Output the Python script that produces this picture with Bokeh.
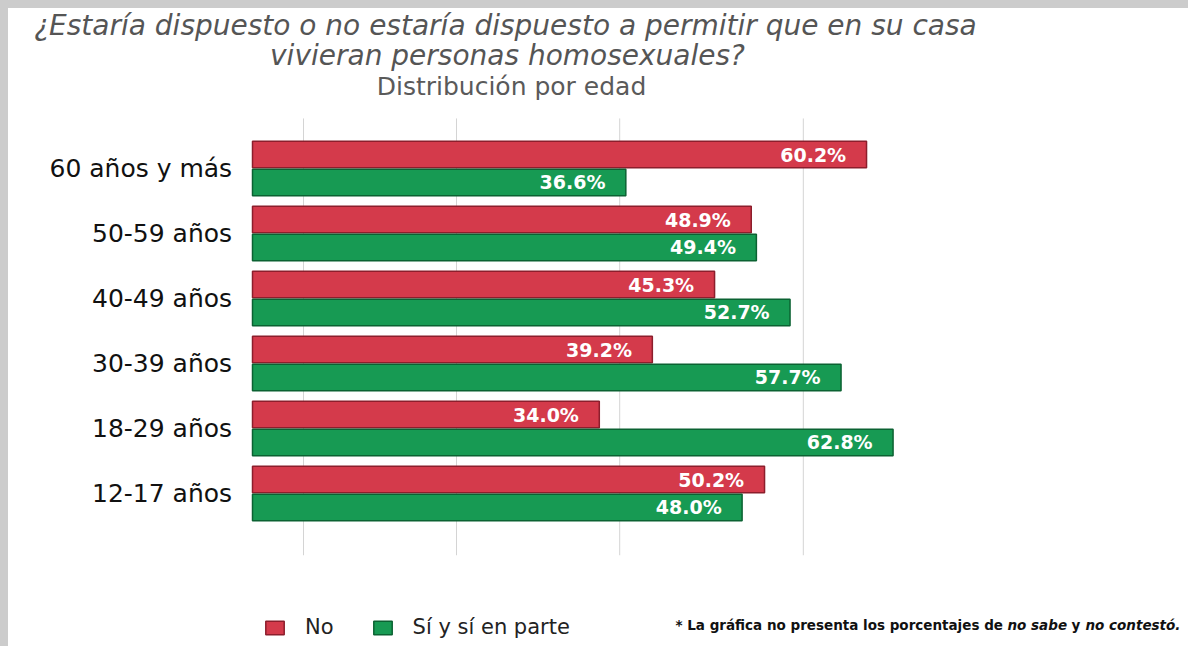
from bokeh.plotting import figure
from bokeh.models import ColumnDataSource, Label, Range1d, Legend, LegendItem
from bokeh.layouts import column
from bokeh.embed import file_html
from bokeh.resources import INLINE
from bokeh.core.properties import value

categories = ["12-17 años", "18-29 años", "30-39 años", "40-49 años", "50-59 años", "60 años y más"]
no_vals = [50.2, 34.0, 39.2, 45.3, 48.9, 60.2]
si_vals = [48.0, 62.8, 57.7, 52.7, 49.4, 36.6]
series_names = ["No", "Sí y sí en parte"]
grid_ticks = [5, 20, 36, 54]

RED = "#d43a4b"
RED_DARK = "#8c1e2c"
GREEN = "#179a53"
GREEN_DARK = "#0b6232"

W, H = 1180, 638
PX_PER_UNIT_X = 10.2
ZERO_X = 244
PX_PER_UNIT_Y = 65
TOP_GROUP_Y = 160  # plot pixels from top to last category centre

x_start = -ZERO_X / PX_PER_UNIT_X
x_end = (W - ZERO_X) / PX_PER_UNIT_X
n = len(categories)
y_top = (n - 1) + TOP_GROUP_Y / PX_PER_UNIT_Y
y_bottom = y_top - H / PX_PER_UNIT_Y

pos = list(range(n))
off = 0.215
h = 0.41

src_no = ColumnDataSource(dict(y=[q + off for q in pos], v=no_vals,
                               lbl=[f"{v:.1f}%" for v in no_vals],
                               lx=[v - 2.0 for v in no_vals]))
src_si = ColumnDataSource(dict(y=[q - off for q in pos], v=si_vals,
                               lbl=[f"{v:.1f}%" for v in si_vals],
                               lx=[v - 2.0 for v in si_vals]))
src_cat = ColumnDataSource(dict(y=pos, x=[-2.0] * n, t=categories))

p = figure(width=W, height=H, output_backend="svg", toolbar_location=None,
           x_range=Range1d(x_start, x_end), y_range=Range1d(y_bottom, y_top),
           min_border=0)
p.background_fill_color = "white"
p.border_fill_color = "white"
p.outline_line_color = None
p.xaxis.visible = False
p.yaxis.visible = False
p.grid.visible = False

# vertical grid lines
p.segment(x0=grid_ticks, x1=grid_ticks, y0=[-0.95] * len(grid_ticks), y1=[5.77] * len(grid_ticks),
          line_color="#d4d4d4", line_width=1)

r_no = p.hbar(y="y", right="v", left=0, height=h, source=src_no,
              fill_color=RED, line_color=RED_DARK, line_width=1.5)
r_si = p.hbar(y="y", right="v", left=0, height=h, source=src_si,
              fill_color=GREEN, line_color=GREEN_DARK, line_width=1.5)

for src in (src_no, src_si):
    p.text(x="lx", y="y", text="lbl", source=src, text_align="right", text_baseline="middle",
           text_color="white", text_font=value("DejaVu Sans"), text_font_style="bold",
           text_font_size="19px")

# category labels
p.text(x="x", y="y", text="t", source=src_cat, text_align="right", text_baseline="middle",
       text_color="#111111", text_font=value("DejaVu Sans"), text_font_size="25px")

title_lines = ["¿Estaría dispuesto o no estaría dispuesto a permitir que en su casa",
               "vivieran personas homosexuales?"]
subtitle = "Distribución por edad"
note_parts = ["* La gráfica no presenta los porcentajes de", "no sabe", "y", "no contestó."]
note_styles = ["bold", "bold italic", "bold", "bold italic"]
note_x = [667, 999, 1063, 1077]

title_pos = [(497, 621), (499, 591)]
for (tx, ty), t in zip(title_pos, title_lines):
    p.add_layout(Label(x=tx, y=ty, x_units="screen", y_units="screen", text=t,
                       text_align="center", text_baseline="middle", text_color="#555555",
                       text_font="DejaVu Sans", text_font_style="italic", text_font_size="28px"))
p.add_layout(Label(x=503, y=560, x_units="screen", y_units="screen", text=subtitle,
                   text_align="center", text_baseline="middle", text_color="#5a5a5a",
                   text_font="DejaVu Sans", text_font_size="25px"))

for t, st, nx in zip(note_parts, note_styles, note_x):
    p.add_layout(Label(x=nx, y=22, x_units="screen", y_units="screen", text=t,
                       text_align="left", text_baseline="middle", text_color="#111111",
                       text_font="DejaVu Sans", text_font_style=st, text_font_size="13.5px"))

legend = Legend(items=[LegendItem(label=series_names[0], renderers=[r_no]),
                       LegendItem(label=series_names[1], renderers=[r_si])],
                orientation="horizontal", location=(255, 7),
                glyph_width=23, glyph_height=17, label_standoff=19, spacing=37,
                padding=0, margin=0, border_line_color=None, background_fill_alpha=0,
                label_text_font="DejaVu Sans", label_text_font_size="21px",
                label_text_color="#222222")
p.add_layout(legend)

layout = column(p, styles={"border-left": "8px solid #cccccc", "border-top": "8px solid #cccccc"})

open("out.html", "w").write(file_html(layout, INLINE))
